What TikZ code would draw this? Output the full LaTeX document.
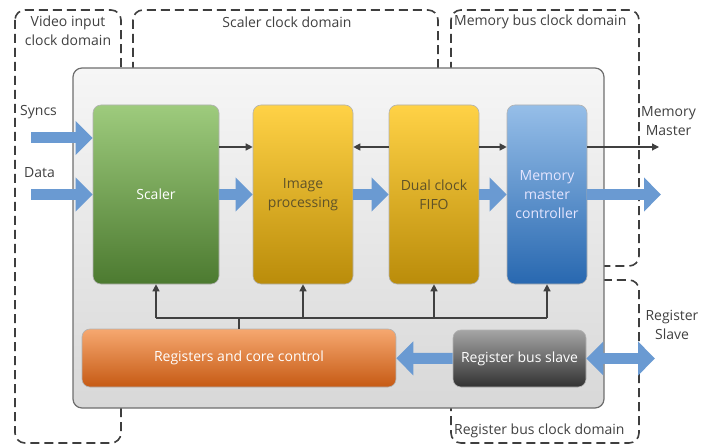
\documentclass[tikz,border=0pt]{standalone}
\usepackage{fontspec}
\setmainfont{Open Sans}
\usetikzlibrary{arrows.meta}

\definecolor{bigblue}{RGB}{106,154,210}
\definecolor{linegray}{RGB}{64,64,64}
\definecolor{dashgray}{RGB}{62,62,62}
\definecolor{greentop}{RGB}{158,203,125}
\definecolor{greenbot}{RGB}{76,122,48}
\definecolor{yellowtop}{RGB}{255,210,70}
\definecolor{yellowbot}{RGB}{186,140,10}
\definecolor{bluetop}{RGB}{150,190,232}
\definecolor{bluebot}{RGB}{40,104,176}
\definecolor{orangetop}{RGB}{246,168,112}
\definecolor{orangebot}{RGB}{198,90,20}
\definecolor{graytop}{RGB}{165,165,165}
\definecolor{graybot}{RGB}{50,50,50}
\definecolor{coretop}{RGB}{246,246,246}
\definecolor{corebot}{RGB}{216,216,216}
\definecolor{yellowtext}{RGB}{95,82,40}

\tikzset{
  txt/.style={font=\fontsize{14}{19}\selectfont, text=black!75, align=center, inner sep=1pt},
  clockzone/.style={draw=dashgray, line width=1.6pt, dash pattern=on 9pt off 5pt, rounded corners=10pt},
  block/.style={txt, rounded corners=8pt, draw=black!30, line width=0.6pt, minimum height=179pt},
  bigarrow/.style={draw=bigblue, line width=11pt, -{Triangle[width=33pt,length=17pt]}},
  bigboth/.style={draw=bigblue, line width=11pt, {Triangle[width=33pt,length=17pt]}-{Triangle[width=33pt,length=17pt]}},
  sigline/.style={draw=linegray, line width=1.2pt},
  sigarrow/.style={sigline, -{Triangle[width=7pt,length=7pt]}}
}

\begin{document}
\begin{tikzpicture}[x=1pt,y=-1pt]
  \useasboundingbox (0,0) rectangle (714,446);
  % clock domains
  \draw[clockzone] (15,10) rectangle (121,443);
  \draw[clockzone] (133,10) rectangle (438,400);
  \draw[clockzone] (451,10) rectangle (639,266);
  \draw[clockzone] (451,280) rectangle (639,443);
  \node[txt] (vidlbl) at (68,31) {Video input\\clock domain};
  \node[txt] (sclbl) at (287,22) {Scaler clock domain};
  \node[txt, anchor=west] (memlbl) at (453,22) {Memory bus clock domain};
  \node[txt, anchor=west] (reglbl) at (453,431) {Register bus clock domain};
  % core
  \node[rounded corners=9pt, draw=black!57, line width=1.2pt, top color=coretop, bottom color=corebot,
        minimum width=531pt, minimum height=340pt] (core) at (338.5,238) {};
  % blocks
  \node[block, minimum width=126pt, top color=greentop, bottom color=greenbot, text=white] (scaler) at (156,194.5) {Scaler};
  \node[block, minimum width=100pt, top color=yellowtop, bottom color=yellowbot, text=yellowtext] (imgproc) at (303,194.5) {Image\\processing};
  \node[block, minimum width=90pt, top color=yellowtop, bottom color=yellowbot, text=yellowtext] (fifo) at (434,194.5) {Dual clock\\FIFO};
  \node[block, minimum width=80pt, top color=bluetop, bottom color=bluebot, text=white!90!blue] (memctrl) at (547,194.5) {Memory\\master\\controller};
  \node[block, minimum width=314pt, minimum height=58pt, top color=orangetop, bottom color=orangebot, text=white] (regs) at (239,358) {Registers and core control};
  \node[block, minimum width=133pt, minimum height=57pt, top color=graytop, bottom color=graybot, text=white] (regslave) at (519.5,358.5) {Register bus slave};
  % free ends
  \coordinate (sig) at (0,147);
  \coordinate (bus) at (0,318);
  \coordinate (syncin) at (31,138);
  \coordinate (datain) at (31,194.5);
  \coordinate (memout) at (661,194.5);
  \coordinate (mastout) at (659,147);
  \coordinate (slaveout) at (655,358.5);
  % inputs
  \draw[bigarrow] (syncin) -- (scaler.west |- syncin);
  \draw[bigarrow] (datain) -- (scaler.west |- datain);
  \node[txt, anchor=west] (synclbl) at (19,112) {Syncs};
  \node[txt, anchor=west] (datalbl) at (23,173) {Data};
  % data path
  \draw[bigarrow] (scaler) -- (imgproc);
  \draw[bigarrow] (imgproc) -- (fifo);
  \draw[bigarrow] (fifo) -- (memctrl);
  \draw[bigarrow] (memctrl) -- (memout);
  \draw[sigarrow] (scaler.east |- sig) -- (imgproc.west |- sig);
  \draw[sigarrow] (fifo.west |- sig) -- (imgproc.east |- sig);
  \draw[sigarrow] (fifo.east |- sig) -- (memctrl.west |- sig);
  \draw[sigarrow] (memctrl.east |- sig) -- (mastout);
  \node[txt, anchor=west] (mastlbl) at (640,121) {Memory\\Master};
  % control bus
  \draw[sigline] (scaler.south |- bus) -- (memctrl.south |- bus);
  \draw[sigline] (regs.north) -- (regs.north |- bus);
  \foreach \blk in {scaler,imgproc,fifo,memctrl}
    \draw[sigarrow] (\blk.south |- bus) -- (\blk.south);
  % register bus
  \draw[bigarrow] (regslave) -- (regs);
  \draw[bigboth] (regslave.east) -- (slaveout);
  \node[txt] (slavelbl) at (672,325) {Register\\Slave};
\end{tikzpicture}
\end{document}
